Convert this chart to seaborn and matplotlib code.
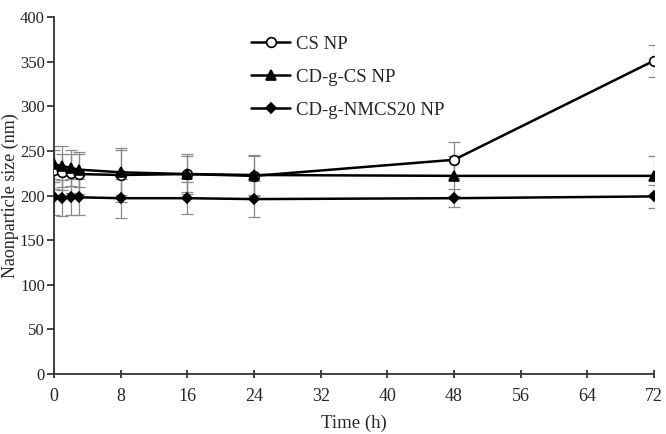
#!/usr/bin/env python3
"""
Nanoparticle size stability over time.
"""

import numpy as np
import pandas as pd
import matplotlib
matplotlib.use("Agg")
import matplotlib.pyplot as plt
import seaborn as sns

# Data
time_h = [0, 1, 2, 3, 8, 16, 24, 48, 72]

cs_np = [229, 226, 225, 224, 223, 224, 222, 240, 351]
cs_np_err = [22, 20, 22, 22, 30, 20, 22, 20, 18]

cdg_cs_np = [235, 233, 231, 229, 226, 224, 223, 222, 222]
cdg_cs_np_err = [20, 23, 20, 20, 25, 22, 22, 22, 22]

cdg_nmcs20_np = [198, 197, 198, 198, 197, 197, 196, 197, 199]
cdg_nmcs20_np_err = [20, 20, 20, 20, 22, 18, 20, 10, 13]

series_names = ["CS NP", "CD-g-CS NP", "CD-g-NMCS20 NP"]
x_ticks = [0, 8, 16, 24, 32, 40, 48, 56, 64, 72]
y_ticks = [0, 50, 100, 150, 200, 250, 300, 350, 400]

sns.set_style("ticks")
plt.rcParams['font.family'] = ['Liberation Serif', 'DejaVu Serif']

df = pd.DataFrame({
    'time': time_h * 3,
    'size': cs_np + cdg_cs_np + cdg_nmcs20_np,
    'err': cs_np_err + cdg_cs_np_err + cdg_nmcs20_np_err,
    'series': np.repeat(series_names, len(time_h)),
})

fig = plt.figure(figsize=(6.66, 4.34), dpi=100)
ax = fig.add_axes([0.081, 0.138, 0.901, 0.823])

# error bars first so the lines sit on top
for name in series_names:
    sub = df[df['series'] == name]
    ax.errorbar(sub['time'], sub['size'], yerr=sub['err'], fmt='none',
                ecolor='#8a8a8a', elinewidth=0.9, capsize=4, capthick=0.9, zorder=1)

styles = {
    "CS NP": dict(marker='o', markerfacecolor='white', markersize=7),
    "CD-g-CS NP": dict(marker='^', markerfacecolor='black', markersize=7),
    "CD-g-NMCS20 NP": dict(marker='D', markerfacecolor='black', markersize=5.5),
}
for name in series_names:
    sub = df[df['series'] == name]
    sns.lineplot(data=sub, x='time', y='size', ax=ax, color='black', linewidth=1.8,
                 markeredgecolor='black', markeredgewidth=1.2, label=name,
                 zorder=3, **styles[name])

ax.set_xlim(0, 72)
ax.set_ylim(0, 400)
ax.set_xticks(x_ticks)
ax.set_yticks(y_ticks)
ax.tick_params(axis='x', direction='inout', length=6, width=1.2, labelsize=13, pad=7)
ax.tick_params(axis='y', direction='out', length=5, width=1.2, labelsize=12, pad=1.5)
sns.despine(ax=ax)
ax.spines['left'].set_linewidth(1.3)
ax.spines['bottom'].set_linewidth(1.3)
ax.spines['left'].set_color('#333333')
ax.spines['bottom'].set_color('#333333')

ax.set_xlabel("Time (h)", fontsize=13.5, labelpad=7)
ax.set_ylabel("Naonparticle size (nm)", fontsize=13)
ax.yaxis.set_label_coords(-0.058, 0.5)

ax.legend(loc='upper left', bbox_to_anchor=(0.3, 0.995), frameon=False,
          fontsize=13.5, handlelength=2.1, labelspacing=0.85, handletextpad=0.3)

fig.savefig("out.png", dpi=100)
